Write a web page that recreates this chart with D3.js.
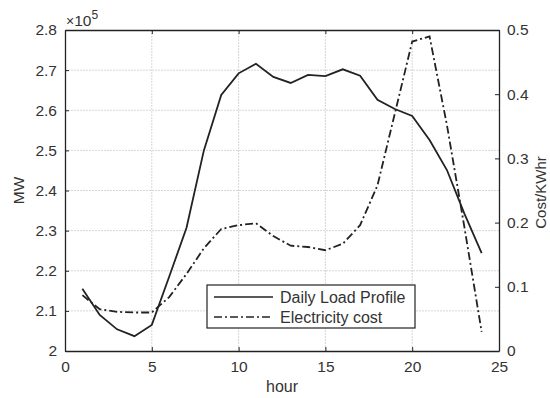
<!DOCTYPE html>
<html>
<head>
<meta charset="utf-8">
<script src="https://cdn.jsdelivr.net/npm/d3@7"></script>
<style>
  body { margin: 0; background: #fff; }
  svg text { font-family: "Liberation Sans", Arial, sans-serif; fill: #333; }
</style>
</head>
<body>
<svg id="chart"></svg>
<script>
// data
const hours = [1, 2, 3, 4, 5, 6, 7, 8, 9, 10, 11, 12, 13, 14, 15, 16, 17, 18, 19, 20, 21, 22, 23, 24]
const load = [215500, 209000, 205400, 203700, 206500, 218500, 230700, 250000, 263800, 269200, 271600, 268300, 266800, 268800, 268500, 270200, 268600, 262600, 260300, 258600, 252600, 245100, 234300, 224400]
const cost = [0.087, 0.065, 0.061, 0.060, 0.060, 0.084, 0.120, 0.160, 0.190, 0.196, 0.199, 0.179, 0.164, 0.162, 0.157, 0.167, 0.196, 0.258, 0.370, 0.482, 0.490, 0.352, 0.194, 0.030]
const xTicks = [0, 5, 10, 15, 20, 25]
const loadTicks = [200000, 210000, 220000, 230000, 240000, 250000, 260000, 270000, 280000]
const costTicks = [0, 0.1, 0.2, 0.3, 0.4, 0.5]
const seriesNames = ["Daily Load Profile", "Electricity cost"]

const width = 550, height = 398
const margin = { top: 30, right: 51, bottom: 47, left: 65 }
const tickLen = 4
const ink = "#222"

const svg = d3.select('#chart')
    .attr("width", width)
    .attr("height", height)

let x = d3.scaleLinear()
    .domain([0, 25])
    .range([margin.left, width - margin.right])

let yL = d3.scaleLinear()
    .domain([200000, 280000])
    .range([height - margin.bottom, margin.top])

let yR = d3.scaleLinear()
    .domain([0, 0.5])
    .range([height - margin.bottom, margin.top])

// grid
let grid = svg.append("g").attr("class", "grid")
    .attr("stroke", "#d6d6d6").attr("stroke-width", 1).attr("stroke-dasharray", "2,1")
grid.selectAll("line.v").data(xTicks.slice(1, -1)).enter().append("line")
    .attr("x1", d => x(d)).attr("x2", d => x(d))
    .attr("y1", margin.top).attr("y2", height - margin.bottom)
grid.selectAll("line.h").data(loadTicks.slice(1, -1)).enter().append("line")
    .attr("x1", margin.left).attr("x2", width - margin.right)
    .attr("y1", d => yL(d)).attr("y2", d => yL(d))

// axes
const fmtL = d => d3.format("")(+(d / 1e5).toFixed(1))
const fmtR = d => d3.format("")(+d.toFixed(1))

function styleAxis(g) {
    g.select(".domain").attr("stroke", ink).attr("stroke-width", 1.3)
    g.selectAll(".tick line").attr("stroke", ink)
    g.selectAll(".tick text").attr("font-size", 15.5).attr("fill", "#333")
}

svg.append("g")
    .attr("transform", `translate(0,${height - margin.bottom})`)
    .call(d3.axisBottom(x).tickValues(xTicks).tickSizeInner(-tickLen).tickSizeOuter(0).tickPadding(10))
    .call(styleAxis)

svg.append("g")
    .attr("transform", `translate(0,${margin.top})`)
    .call(d3.axisTop(x).tickValues(xTicks).tickSizeInner(-tickLen).tickSizeOuter(0).tickFormat(""))
    .call(styleAxis)

svg.append("g")
    .attr("transform", `translate(${margin.left},0)`)
    .call(d3.axisLeft(yL).tickValues(loadTicks).tickFormat(fmtL).tickSizeInner(-tickLen).tickSizeOuter(0).tickPadding(8))
    .call(styleAxis)

svg.append("g")
    .attr("transform", `translate(${width - margin.right},0)`)
    .call(d3.axisRight(yR).tickValues(costTicks).tickFormat(fmtR).tickSizeInner(-tickLen).tickSizeOuter(0).tickPadding(8))
    .call(styleAxis)

// exponent label
let expo = svg.append("text")
    .attr("x", margin.left + 1).attr("y", margin.top - 4)
    .attr("font-size", 15.5)
expo.append("tspan").text("\u00d7").attr("font-size", 14)
expo.append("tspan").text("10")
expo.append("tspan").text("5").attr("font-size", 12).attr("dy", -7)

// axis titles
svg.append("text")
    .attr("transform", `translate(24,${(margin.top + height - margin.bottom) / 2}) rotate(-90)`)
    .attr("text-anchor", "middle").attr("font-size", 15.5)
    .text("MW")

svg.append("text")
    .attr("transform", `translate(546,${(margin.top + height - margin.bottom) / 2 + 2}) rotate(-90)`)
    .attr("text-anchor", "middle").attr("font-size", 15)
    .text("Cost/KWhr")

svg.append("text")
    .attr("x", (margin.left + width - margin.right) / 2).attr("y", 392)
    .attr("text-anchor", "middle").attr("font-size", 16)
    .text("hour")

// lines
const loadLine = d3.line().x((d, i) => x(hours[i])).y(d => yL(d))
const costLine = d3.line().x((d, i) => x(hours[i])).y(d => yR(d))

svg.append("path")
    .datum(load)
    .attr("fill", "none").attr("stroke", ink).attr("stroke-width", 1.8)
    .attr("d", loadLine)

svg.append("path")
    .datum(cost)
    .attr("fill", "none").attr("stroke", ink).attr("stroke-width", 1.8)
    .attr("stroke-dasharray", "8,3,2,3")
    .attr("d", costLine)

// legend
const lg = svg.append("g").attr("transform", "translate(207,285)")
lg.append("rect")
    .attr("width", 208).attr("height", 43)
    .attr("fill", "#fff").attr("stroke", ink).attr("stroke-width", 1.2)

let items = lg.selectAll("g.item").data(seriesNames).enter().append("g")
    .attr("transform", (d, i) => `translate(0,${12 + i * 20})`)
items.append("line")
    .attr("x1", 7).attr("x2", 66)
    .attr("stroke", ink).attr("stroke-width", 1.7)
    .attr("stroke-dasharray", (d, i) => i === 1 ? "8,3,2,3" : null)
items.append("text")
    .attr("x", 73).attr("y", 5.5)
    .attr("font-size", 16)
    .text(d => d)
</script>
</body>
</html>
